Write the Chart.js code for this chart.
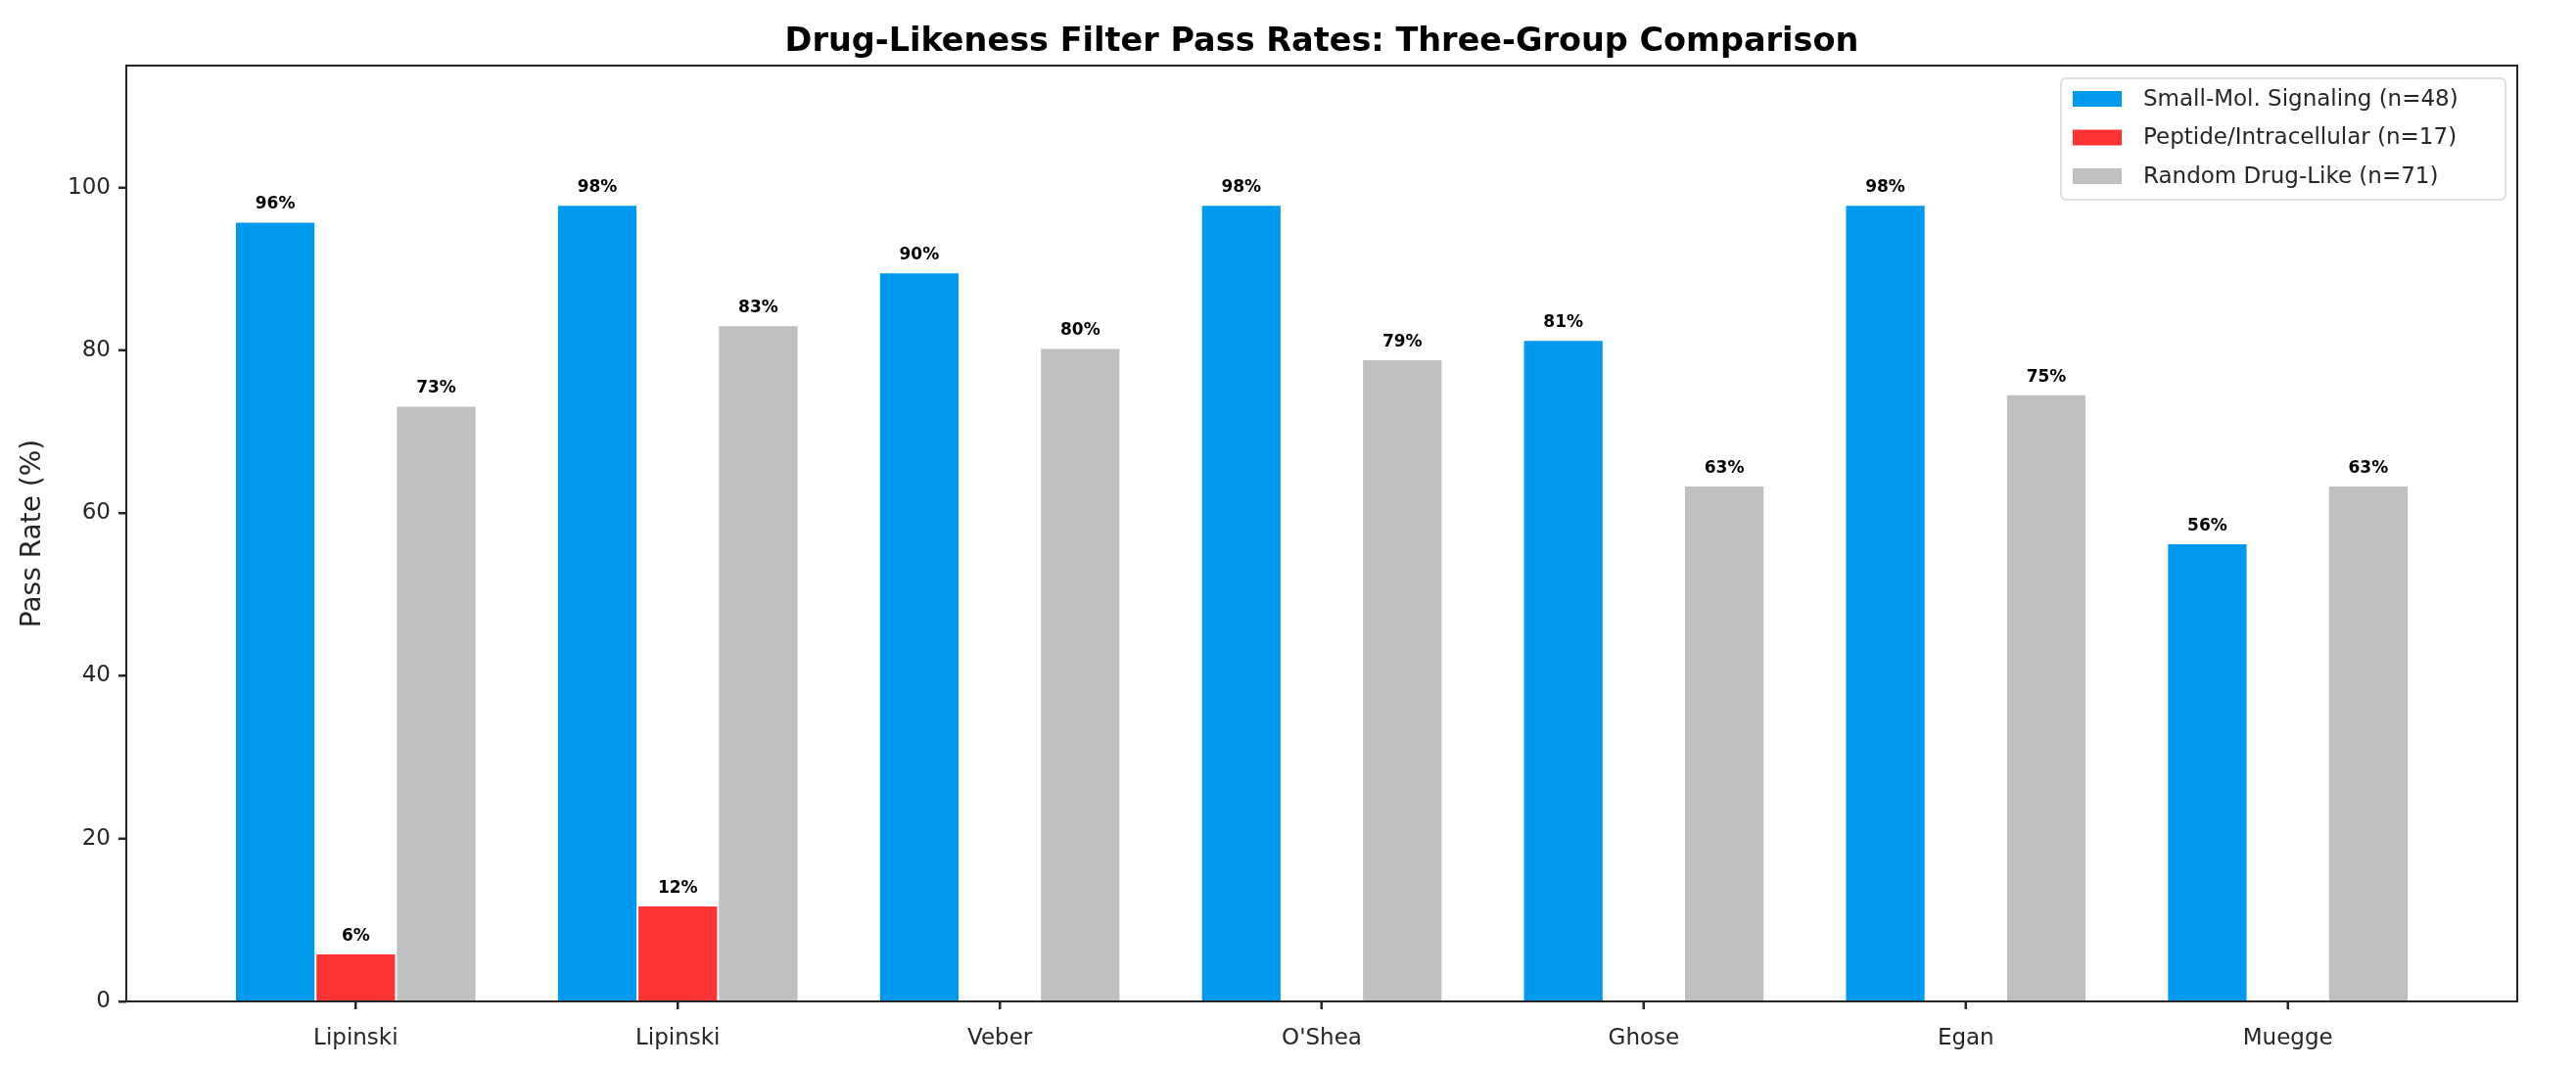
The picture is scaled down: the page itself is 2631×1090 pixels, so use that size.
<!DOCTYPE html>
<html><head><meta charset="utf-8">
<script src="https://cdn.jsdelivr.net/npm/chart.js@4.4.1/dist/chart.umd.min.js"></script>
<style>html,body{margin:0;padding:0;background:#fff;overflow:hidden}</style>
</head><body>
<canvas id="c" width="2631" height="1090"></canvas>
<script>
const categories = ["Lipinski", "Lipinski", "Veber", "O'Shea", "Ghose", "Egan", "Muegge"];
const seriesNames = ["Small-Mol. Signaling (n=48)", "Peptide/Intracellular (n=17)", "Random Drug-Like (n=71)"];
const smallMol = [95.8, 97.9, 89.6, 97.9, 81.3, 97.9, 56.3];
const peptide = [5.9, 11.8, 0, 0, 0, 0, 0];
const randomDL = [73.2, 83.1, 80.3, 78.9, 63.4, 74.6, 63.4];
const yTicks = [0, 20, 40, 60, 80, 100];
const titleText = "Drug-Likeness Filter Pass Rates: Three-Group Comparison";
const yAxisTitle = "Pass Rate (%)";
const colors = ["#0099f0", "#ff3333", "#bfbfbf"];

const FONT = "'DejaVu Sans', 'Noto Sans', sans-serif";

function toPoints(arr) { return arr.map((v, i) => ({ x: i, y: v })); }

const frameAndLabels = {
  id: 'frameAndLabels',
  afterDatasetsDraw(chart) {
    const ctx = chart.ctx;
    const ca = chart.chartArea;
    const y = chart.scales.y;
    const x = chart.scales.x;
    ctx.save();
    ctx.font = "bold 17px " + FONT;
    ctx.fillStyle = "#000";
    ctx.textAlign = "center";
    ctx.textBaseline = "alphabetic";
    chart.data.datasets.forEach((ds, di) => {
      const meta = chart.getDatasetMeta(di);
      meta.data.forEach((bar, i) => {
        const v = ds.data[i].y;
        if (v > 0) {
          ctx.fillText(Math.round(v) + "%", bar.x, y.getPixelForValue(v + 1) - 5);
        }
      });
    });
    ctx.restore();
    ctx.save();
    ctx.strokeStyle = "#262626";
    ctx.lineWidth = 2;
    ctx.strokeRect(ca.left, ca.top, ca.right - ca.left, ca.bottom - ca.top);
    // tick marks
    ctx.beginPath();
    categories.forEach((c, i) => {
      const px = Math.round(x.getPixelForValue(i));
      ctx.moveTo(px, ca.bottom);
      ctx.lineTo(px, ca.bottom + 8);
    });
    yTicks.forEach(v => {
      const py = Math.round(y.getPixelForValue(v));
      ctx.moveTo(ca.left, py);
      ctx.lineTo(ca.left - 8, py);
    });
    ctx.stroke();
    ctx.restore();
  },
  afterDraw(chart) {
    const ctx = chart.ctx;
    const ca = chart.chartArea;
    ctx.save();
    ctx.font = "bold 33.5px " + FONT;
    ctx.fillStyle = "#000";
    ctx.textAlign = "center";
    ctx.textBaseline = "alphabetic";
    ctx.fillText(titleText, (ca.left + ca.right) / 2, 52);
    ctx.restore();
    const bx = 2105, by = 80, bw = 454, bh = 124, r = 5;
    ctx.save();
    ctx.fillStyle = "rgba(255,255,255,0.8)";
    ctx.strokeStyle = "#d6d6d6";
    ctx.lineWidth = 1.5;
    ctx.beginPath();
    ctx.roundRect(bx, by, bw, bh, r);
    ctx.fill();
    ctx.stroke();
    ctx.font = "23px " + FONT;
    ctx.textAlign = "left";
    ctx.textBaseline = "middle";
    const rows = [101, 140.5, 180];
    chart.data.datasets.forEach((ds, di) => {
      ctx.fillStyle = ds.backgroundColor;
      ctx.fillRect(2117, rows[di] - 8, 50, 16);
      ctx.fillStyle = "#262626";
      ctx.fillText(ds.label, 2189, rows[di] + 1);
    });
    ctx.restore();
  }
};

new Chart(document.getElementById('c'), {
  type: 'bar',
  data: {
    datasets: [
      { label: seriesNames[0], data: toPoints(smallMol), backgroundColor: colors[0], borderColor: "#ffffff", borderWidth: 1 },
      { label: seriesNames[1], data: toPoints(peptide), backgroundColor: colors[1], borderColor: "#ffffff", borderWidth: 1 },
      { label: seriesNames[2], data: toPoints(randomDL), backgroundColor: colors[2], borderColor: "#ffffff", borderWidth: 1 }
    ]
  },
  options: {
    responsive: false,
    animation: false,
    devicePixelRatio: 1,
    layout: { padding: { left: 0, right: 60, top: 67, bottom: 0 } },
    datasets: { bar: { categoryPercentage: 0.75, barPercentage: 1.0 } },
    scales: {
      x: {
        type: 'linear',
        min: -0.7125, max: 6.7125,
        offset: false,
        afterBuildTicks: s => { s.ticks = categories.map((c, i) => ({ value: i })); },
        afterFit: s => { s.height = 67; },
        ticks: {
          callback: (v) => categories[v],
          autoSkip: false, maxRotation: 0,
          font: { family: FONT, size: 23 }, color: "#262626", padding: 16
        },
        grid: { offset: false, drawOnChartArea: false, drawTicks: true, tickLength: 8, tickWidth: 2, tickColor: "#262626" },
        border: { display: false }
      },
      y: {
        min: 0, max: 115,
        afterBuildTicks: s => { s.ticks = yTicks.map(v => ({ value: v })); },
        afterFit: s => { s.width = 129; },
        ticks: { font: { family: FONT, size: 23 }, color: "#262626", padding: 8 },
        grid: { drawOnChartArea: false, drawTicks: true, tickLength: 8, tickWidth: 2, tickColor: "#262626" },
        border: { display: false },
        title: { display: true, text: yAxisTitle, font: { family: FONT, size: 28 }, color: "#262626", padding: { top: 17, bottom: 0 } }
      }
    },
    plugins: { legend: { display: false }, tooltip: { enabled: false }, title: { display: false } }
  },
  plugins: [frameAndLabels]
});
</script>
</body></html>
